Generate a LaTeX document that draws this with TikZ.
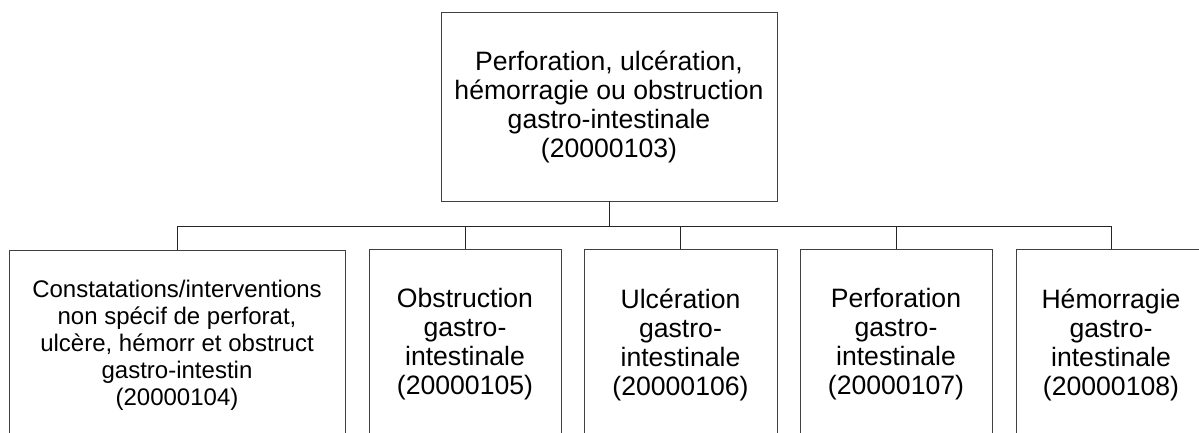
\documentclass[tikz,border=0pt]{standalone}
\usepackage{fontspec}
\setmainfont{Liberation Sans}
\begin{document}
\begin{tikzpicture}[x=1pt,y=-1pt,
  box/.style={draw=black!75, line width=0.9pt, rectangle, inner sep=0pt, align=center,
    font=\fontsize{26.6}{29}\selectfont},
  smalltext/.style={font=\fontsize{24}{27}\selectfont},
  link/.style={draw=black!85, line width=0.9pt}]
  \useasboundingbox (0,0) rectangle (1199,432);
  \clip (0,0) rectangle (1199,432);
  % parent term
  \node[box, minimum width=336pt, minimum height=189pt] (top) at (609,106.5)
    {Perforation, ulcération,\\hémorragie ou obstruction\\gastro-intestinale\\(20000103)};
  % child terms
  \node[box, smalltext, minimum width=336pt, minimum height=191pt] (c1) at (177,345.5)
    {Constatations/interventions\\non spécif de perforat,\\ulcère, hémorr et obstruct\\gastro-intestin\\(20000104)};
  \node[box, minimum width=192pt, minimum height=191pt] (c2) at (465,344.5)
    {Obstruction\\gastro-\\intestinale\\(20000105)};
  \node[box, minimum width=193pt, minimum height=191pt] (c3) at (680.5,344.5)
    {Ulcération\\gastro-\\intestinale\\(20000106)};
  \node[box, minimum width=192pt, minimum height=191pt] (c4) at (896,344.5)
    {Perforation\\gastro-\\intestinale\\(20000107)};
  \node[box, minimum width=190pt, minimum height=191pt] (c5) at (1111,344.5)
    {Hémorragie\\gastro-\\intestinale\\(20000108)};
  % tree connectors through a horizontal bus
  \coordinate (bus) at (609,226.5);
  \draw[link] (top.south) -- (bus);
  \foreach \c in {c1,c2,c3,c4,c5}
    \draw[link] (bus) -| (\c.north);
\end{tikzpicture}
\end{document}
